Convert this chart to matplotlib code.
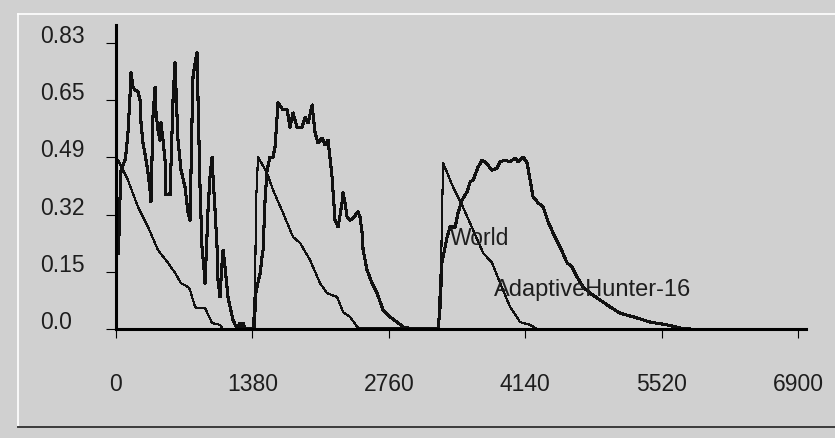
import matplotlib
matplotlib.use("Agg")
import matplotlib.pyplot as plt
from matplotlib.lines import Line2D

plt.rcParams['font.family'] = ['Liberation Sans', 'DejaVu Sans']

# population share of each species over time (three runs back to back)
world_t = [0, 20, 121, 223, 324, 425, 526, 597, 658, 729, 749, 800, 820, 901, 972, 1052, 1083,
           1386, 1407, 1417, 1437, 1528, 1589, 1690, 1791, 1862, 1963, 2064, 2135, 2237, 2297, 2368, 2449,
           3259, 3290, 3309, 3410, 3501, 3613, 3714, 3805, 3886, 3987, 4088, 4190, 4260]
world_v = [0.496, 0.490, 0.432, 0.354, 0.296, 0.229, 0.192, 0.163, 0.133, 0.122, 0.113, 0.064, 0.061, 0.061, 0.017, 0.012, 0.0,
           0.0, 0.12, 0.37, 0.499, 0.453, 0.403, 0.337, 0.267, 0.250, 0.200, 0.133, 0.104, 0.093, 0.049, 0.035, 0.003,
           0.0, 0.2, 0.482, 0.412, 0.360, 0.287, 0.221, 0.192, 0.133, 0.064, 0.020, 0.012, 0.0]

hunter_t = [0, 25, 40, 51, 91, 101, 121, 142, 152, 172, 192, 223, 243, 253, 273, 304, 324, 344, 354,
            374, 395, 405, 425, 445, 455, 476, 496, 506, 546, 557, 577, 597, 607, 627, 658, 698, 729,
            749, 769, 779, 800, 820, 830, 850, 870, 891, 901, 931, 951, 972, 982, 1002, 1022, 1032,
            1052, 1073, 1083, 1103, 1133, 1154, 1184, 1225, 1255, 1275, 1285, 1305,
            1396, 1417, 1457, 1478, 1488, 1508, 1528, 1558, 1589, 1609, 1629, 1639, 1690, 1731, 1761,
            1791, 1832, 1882, 1913, 1943, 1984, 2014, 2044, 2085, 2115, 2145, 2186, 2216, 2247, 2287,
            2297, 2317, 2338, 2368, 2398, 2449, 2469, 2490, 2500, 2540, 2591, 2641, 2702, 2773, 2844,
            2904, 2955, 2985,
            3259, 3279, 3299, 3309, 3350, 3380, 3431, 3461, 3501, 3552, 3583, 3613, 3663, 3704, 3734,
            3805, 3856, 3886, 3937, 3987, 4038, 4068, 4119, 4159, 4190, 4220, 4271, 4321, 4372, 4422,
            4493, 4564, 4615, 4665, 4726, 4797, 4898, 4999, 5100, 5273, 5404, 5576, 5708, 5809]
hunter_v = [0.22, 0.22, 0.374, 0.461, 0.490, 0.511, 0.569, 0.679, 0.743, 0.702, 0.694, 0.688, 0.665, 0.598, 0.540, 0.490, 0.453, 0.403, 0.369,
            0.615, 0.702, 0.627, 0.577, 0.548, 0.598, 0.548, 0.490, 0.389, 0.389, 0.482, 0.665, 0.772, 0.694, 0.548, 0.461, 0.412, 0.337,
            0.316, 0.606, 0.731, 0.772, 0.801, 0.665, 0.412, 0.238, 0.171, 0.133, 0.345, 0.441, 0.499, 0.441, 0.345, 0.238, 0.142,
            0.093, 0.192, 0.229, 0.180, 0.093, 0.064, 0.026, 0.0, 0.017, 0.0, 0.017, 0.0,
            0.0, 0.11, 0.16, 0.21, 0.229, 0.374, 0.461, 0.499, 0.499, 0.528, 0.615, 0.656, 0.636, 0.636, 0.586,
            0.627, 0.586, 0.586, 0.615, 0.598, 0.650, 0.569, 0.540, 0.554, 0.534, 0.548, 0.441, 0.316, 0.296, 0.366,
            0.395, 0.366, 0.325, 0.316, 0.322, 0.340, 0.325, 0.279, 0.229, 0.171, 0.133, 0.104, 0.055, 0.035, 0.020,
            0.006, 0.003, 0.0,
            0.0, 0.064, 0.200, 0.209, 0.267, 0.296, 0.296, 0.337, 0.374, 0.398, 0.427, 0.432, 0.470, 0.490, 0.485,
            0.461, 0.467, 0.485, 0.490, 0.485, 0.496, 0.485, 0.499, 0.482, 0.432, 0.383, 0.366, 0.354, 0.311, 0.279,
            0.238, 0.192, 0.180, 0.151, 0.122, 0.104, 0.084, 0.064, 0.046, 0.032, 0.020, 0.012, 0.003, 0.0]

x_ticks = [0, 1380, 2760, 4140, 5520, 6900]
y_labels = ['0.0', '0.15', '0.32', '0.49', '0.65', '0.83']
y_top = 0.83

bg = '#d0d0d0'
ink = '#1e1e1e'
W, H = 835, 438

fig = plt.figure(figsize=(W / 100, H / 100), dpi=100, facecolor=bg)

# axes box in pixels: left 116, right 806, top 25, bottom 329
ax = fig.add_axes([116 / W, (H - 329) / H, 690 / W, 304 / H])
ax.set_facecolor(bg)
ax.set_xlim(0, 690 * 6900 / 682)
ax.set_ylim(0, y_top * 304 / 286)

ax.plot(world_t, world_v, color='#111111', lw=0.8, antialiased=False)
ax.plot(hunter_t, hunter_v, color='#111111', lw=1.5, antialiased=False)

ax.text(3380, 0.244, 'World', fontsize=16.5, color=ink, ha='left', va='baseline')
ax.text(3825, 0.096, 'AdaptiveHunter-16', fontsize=17, color=ink, ha='left', va='baseline')

for s in ('top', 'right'):
    ax.spines[s].set_visible(False)
for s in ('left', 'bottom'):
    ax.spines[s].set_linewidth(2.2)
    ax.spines[s].set_color('black')

ax.set_xticks(x_ticks)
ax.set_xticklabels([str(v) for v in x_ticks])
ax.tick_params(axis='x', direction='out', length=6.5, width=0.8, pad=25,
               labelsize=16.5, labelcolor=ink, color='black')

ax.set_yticks([y_top * i / 5 for i in range(6)])
ax.set_yticklabels(y_labels)
ax.tick_params(axis='y', direction='out', length=7.2, width=0.8, pad=47.5,
               labelsize=16.5, labelcolor=ink, color='black')
for lbl in ax.get_yticklabels():
    lbl.set_horizontalalignment('left')
    lbl.set_verticalalignment('baseline')

# etched panel border
def px_line(xs, ys, color, lw):
    fig.add_artist(Line2D([x / W for x in xs], [1 - y / H for y in ys],
                          transform=fig.transFigure, color=color, lw=lw))

px_line([18, W], [14, 14], 'white', 1.2)
px_line([18, 18], [14, 427], 'white', 1.2)
px_line([18, W], [427, 427], '#3a3a3a', 1.4)

fig.savefig('out.png', dpi=100, facecolor=bg)
